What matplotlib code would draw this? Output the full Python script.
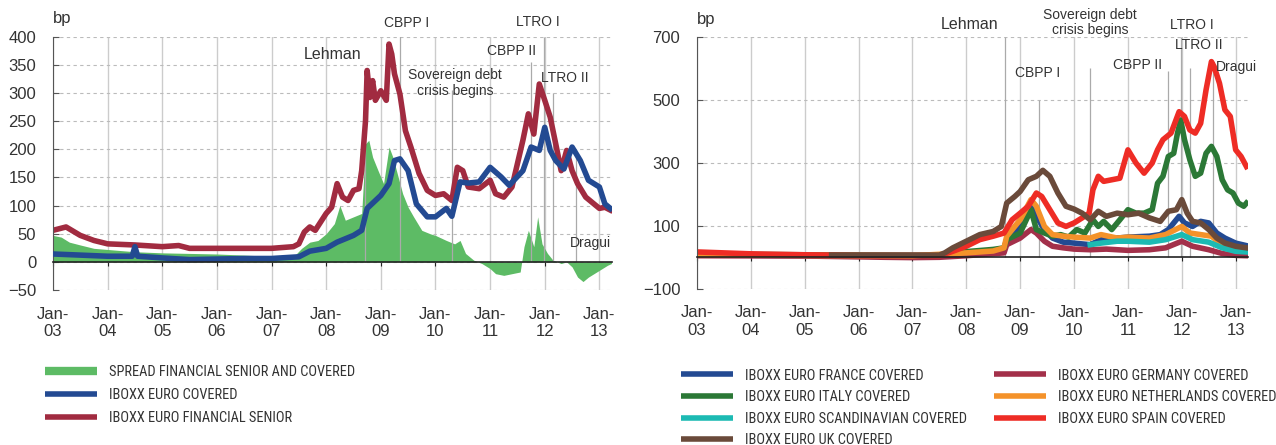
import numpy as np
import matplotlib.pyplot as plt
from matplotlib.lines import Line2D
from matplotlib import font_manager as fm

plt.rcParams['font.family'] = ['Liberation Sans', 'DejaVu Sans']

# legend text in the original is a condensed face: use one if installed
installed = {(f.name, f.stretch) for f in fm.fontManager.ttflist}
narrow = fm.FontProperties(family='Liberation Sans')
for fam, st in [('Liberation Sans Narrow', 'condensed'), ('Liberation Sans Narrow', 'normal'),
                ('Roboto Condensed', 'normal'), ('Roboto Condensed', 'condensed'),
                ('Roboto', 'condensed'), ('Noto Sans', 'condensed'), ('Open Sans', 'condensed'),
                ('DejaVu Sans', 'condensed'), ('DejaVu Sans', 'semi-condensed')]:
    if (fam, st) in installed:
        narrow = fm.FontProperties(family=fam, stretch=st)
        break

#%% x axis (decimal years)
years = list(range(2003, 2014))
year_labels = ['Jan-\n%02d' % (y % 100) for y in years]
x_end = 2013.23

#%% left panel: financial senior vs covered
fin_t = [2003.0, 2003.24, 2003.5, 2003.75, 2004.0, 2004.5, 2005.0, 2005.3, 2005.5, 2006.0,
         2006.5, 2007.0, 2007.4, 2007.5, 2007.6, 2007.7, 2007.8, 2008.0, 2008.1, 2008.2,
         2008.3, 2008.4, 2008.5, 2008.6, 2008.65, 2008.72, 2008.75, 2008.8, 2008.85, 2008.9,
         2009.0, 2009.1, 2009.15, 2009.2, 2009.25, 2009.35, 2009.45, 2009.55, 2009.7, 2009.85,
         2010.0, 2010.15, 2010.3, 2010.4, 2010.5, 2010.6, 2010.8, 2011.0, 2011.1, 2011.25,
         2011.4, 2011.6, 2011.7, 2011.8, 2011.9, 2012.0, 2012.1, 2012.2, 2012.3, 2012.4,
         2012.5, 2012.6, 2012.75, 2012.9, 2013.0, 2013.1, 2013.2]
fin_senior = [56, 62, 47, 38, 32, 30, 27, 29, 24, 24,
              24, 24, 27, 32, 53, 62, 56, 86, 97, 139,
              115, 109, 127, 130, 162, 251, 340, 292, 322, 287,
              304, 287, 387, 369, 334, 298, 233, 204, 157, 127,
              118, 121, 109, 168, 162, 133, 130, 145, 121, 115,
              133, 216, 263, 227, 316, 287, 257, 210, 162, 198,
              162, 139, 115, 103, 95, 97, 92]

cov_t = [2003.0, 2003.5, 2004.0, 2004.45, 2004.5, 2004.55, 2005.0, 2005.5, 2006.0, 2006.5,
         2007.0, 2007.5, 2007.7, 2008.0, 2008.2, 2008.5, 2008.65, 2008.75, 2009.0, 2009.15,
         2009.25, 2009.35, 2009.5, 2009.65, 2009.85, 2010.0, 2010.2, 2010.3, 2010.45, 2010.6,
         2010.8, 2011.0, 2011.2, 2011.35, 2011.6, 2011.75, 2011.9, 2012.0, 2012.1, 2012.2,
         2012.35, 2012.5, 2012.65, 2012.8, 2013.0, 2013.1, 2013.2]
covered = [14, 12, 10, 10, 27, 10, 7, 4, 5, 6,
           6, 9, 19, 24, 35, 47, 56, 95, 118, 139,
           180, 183, 162, 103, 80, 80, 95, 81, 142, 140,
           142, 168, 151, 136, 162, 204, 198, 239, 198, 180,
           165, 204, 180, 145, 133, 103, 95]

spread_t = [2003.0, 2003.15, 2003.3, 2003.5, 2003.75, 2004.0, 2004.5, 2005.0, 2005.5, 2006.0,
            2006.5, 2007.0, 2007.4, 2007.55, 2007.7, 2007.85, 2008.0, 2008.15, 2008.25, 2008.35,
            2008.5, 2008.65, 2008.72, 2008.78, 2008.85, 2008.95, 2009.05, 2009.15, 2009.22, 2009.3,
            2009.4, 2009.5, 2009.6, 2009.75, 2009.9, 2010.0, 2010.2, 2010.35, 2010.45, 2010.55,
            2010.7, 2010.85, 2011.0, 2011.1, 2011.25, 2011.4, 2011.55, 2011.62, 2011.7, 2011.8,
            2011.87, 2011.95, 2012.05, 2012.15, 2012.3, 2012.4, 2012.5, 2012.6, 2012.7, 2012.8,
            2012.9, 2013.0, 2013.15, 2013.22]
spread = [47, 44, 35, 30, 24, 22, 18, 16, 15, 14,
          12, 10, 9, 24, 35, 38, 50, 68, 100, 74,
          80, 86, 210, 216, 186, 162, 139, 204, 186, 157,
          121, 97, 80, 56, 50, 47, 38, 32, 38, 15,
          3, -3, -12, -21, -24, -21, -18, 27, 56, 27,
          80, 32, 15, 3, -3, 0, -9, -27, -35, -27,
          -21, -15, -6, -3]

#%% right panel: covered bond indices by country
fr_t = [2003.0, 2005.0, 2007.0, 2007.5, 2008.0, 2008.5, 2008.7, 2008.75, 2009.0, 2009.2,
        2009.3, 2009.45, 2009.6, 2009.8, 2010.0, 2010.3, 2010.5, 2010.8, 2011.0, 2011.4,
        2011.6, 2011.75, 2011.95, 2012.05, 2012.2, 2012.35, 2012.5, 2012.65, 2012.8, 2013.0,
        2013.2]
france = [8, 5, 4, 3, 14, 19, 24, 56, 98, 162,
          130, 88, 61, 48, 45, 40, 56, 61, 64, 67,
          72, 88, 130, 109, 98, 114, 109, 77, 61, 45,
          37]

de_t = [2003.0, 2005.0, 2006.5, 2007.0, 2007.5, 2008.0, 2008.7, 2008.75, 2009.0, 2009.2,
        2009.3, 2009.45, 2009.6, 2009.8, 2010.0, 2010.3, 2010.6, 2011.0, 2011.4, 2011.7,
        2012.0, 2012.2, 2012.5, 2012.75, 2013.0, 2013.2]
germany = [5, 4, 0, -1, 0, 5, 14, 40, 61, 88,
           77, 51, 35, 30, 26, 24, 26, 22, 24, 30,
           51, 35, 24, 12, 6, 5]

it_t = [2003.0, 2005.0, 2007.0, 2007.5, 2008.0, 2008.5, 2008.7, 2008.75, 2009.0, 2009.2,
        2009.3, 2009.45, 2009.6, 2009.75, 2009.9, 2010.05, 2010.2, 2010.35, 2010.45, 2010.55,
        2010.7, 2010.85, 2011.0, 2011.15, 2011.3, 2011.45, 2011.55, 2011.65, 2011.75, 2011.85,
        2011.92, 2011.98, 2012.05, 2012.15, 2012.25, 2012.35, 2012.45, 2012.55, 2012.65, 2012.75,
        2012.85, 2012.95, 2013.05, 2013.15, 2013.2]
italy = [10, 8, 6, 6, 18, 25, 30, 56, 77, 151,
         88, 77, 67, 72, 64, 88, 77, 119, 98, 114,
         88, 119, 151, 140, 140, 151, 235, 257, 320, 330,
         394, 436, 373, 309, 257, 267, 330, 352, 320, 246,
         214, 204, 172, 162, 172]

nl_t = [2003.0, 2005.0, 2007.0, 2008.0, 2008.5, 2008.7, 2008.75, 2009.0, 2009.2, 2009.3,
        2009.45, 2009.6, 2009.8, 2010.0, 2010.3, 2010.5, 2010.8, 2011.0, 2011.4, 2011.7,
        2012.0, 2012.15, 2012.35, 2012.55, 2012.75, 2013.0, 2013.2]
netherlands = [8, 6, 5, 14, 20, 30, 67, 119, 183, 162,
               98, 72, 67, 64, 61, 72, 61, 64, 61, 72,
               98, 77, 72, 67, 40, 30, 26]

sc_t = [2010.3, 2010.5, 2010.8, 2011.0, 2011.4, 2011.7, 2012.0, 2012.2, 2012.5, 2012.75,
        2013.0, 2013.2]
scandinavian = [40, 45, 51, 51, 48, 56, 72, 56, 48, 30,
                19, 17]

es_t = [2003.0, 2003.5, 2004.0, 2005.0, 2006.0, 2007.0, 2007.5, 2007.75, 2008.0, 2008.25,
        2008.5, 2008.7, 2008.85, 2009.0, 2009.15, 2009.3, 2009.4, 2009.55, 2009.7, 2009.85,
        2010.0, 2010.15, 2010.28, 2010.35, 2010.45, 2010.55, 2010.7, 2010.85, 2011.0, 2011.15,
        2011.3, 2011.45, 2011.55, 2011.65, 2011.8, 2011.95, 2012.05, 2012.15, 2012.25, 2012.35,
        2012.45, 2012.55, 2012.6, 2012.7, 2012.8, 2012.9, 2013.0, 2013.1, 2013.2]
spain = [17, 14, 11, 8, 6, 6, 5, 19, 35, 56,
         67, 77, 119, 140, 162, 204, 193, 151, 109, 98,
         109, 125, 140, 214, 257, 241, 246, 251, 341, 299,
         267, 299, 341, 373, 394, 462, 447, 404, 394, 425,
         531, 621, 605, 552, 468, 447, 341, 320, 288]

uk_t = [2005.5, 2006.0, 2007.0, 2007.5, 2007.6, 2007.75, 2008.0, 2008.25, 2008.5, 2008.65,
        2008.75, 2008.9, 2009.0, 2009.15, 2009.3, 2009.42, 2009.55, 2009.7, 2009.85, 2010.0,
        2010.15, 2010.3, 2010.45, 2010.6, 2010.8, 2011.0, 2011.2, 2011.4, 2011.6, 2011.75,
        2011.9, 2012.0, 2012.1, 2012.2, 2012.35, 2012.5, 2012.65, 2012.8, 2013.0, 2013.2]
uk = [7, 7, 7, 7, 14, 30, 51, 72, 82, 98,
      172, 193, 209, 246, 257, 276, 257, 204, 162, 153,
      140, 119, 146, 130, 140, 135, 140, 125, 114, 146,
      151, 183, 140, 114, 109, 88, 61, 45, 35, 30]

#%% events
event_names = ['Lehman', 'CBPP I', 'Sovereign debt\ncrisis begins', 'CBPP II',
               'LTRO I', 'LTRO II', 'Dragui']
event_dates = [2008.71, 2009.35, 2010.30, 2011.75, 2011.98, 2012.16, 2012.57]
left_event_top = [345, 405, 305, 355, 400, 300, 200]
left_label_x = [2008.12, 2009.47, 2010.36, 2011.39, 2011.88, 2012.37, 2012.83]
left_label_y = [368, 424, 318, 374, 426, 327, 33]
right_event_top = [700, 500, 600, 590, 700, 600, 600]
right_label_x = [2008.06, 2009.32, 2010.30, 2011.18, 2012.18, 2012.31, 2013.02]
right_label_y = [740, 585, 745, 610, 737, 674, 604]
label_size = [11.5, 10, 10, 10, 10, 10, 10]

#%% colours
c_spread = '#5dbb65'
c_cov = '#234a92'
c_fin = '#a12b40'
country_colors = {'FRANCE': '#234a92', 'GERMANY': '#a3304a', 'ITALY': '#2b7836',
                  'NETHERLANDS': '#f4922a', 'SCANDINAVIAN': '#1cbab3',
                  'SPAIN': '#ee2c25', 'UK': '#6a4a3a'}
text_c = '#333333'


def style_axes(ax, yticks, ylim, label_pad):
    ax.set_xlim(2003, x_end)
    ax.set_ylim(*ylim)
    ax.set_yticks(yticks)
    ax.set_xticks(years)
    ax.set_xticklabels(year_labels, linespacing=1.3)
    for s in ['top', 'right']:
        ax.spines[s].set_visible(False)
    ax.spines['bottom'].set_position(('data', 0))
    ax.spines['bottom'].set_color('#222222')
    ax.spines['bottom'].set_linewidth(1.2)
    ax.spines['bottom'].set_zorder(5)
    ax.spines['left'].set_color('#555555')
    ax.grid(axis='y', color='#bbbbbb', linestyle=(0, (3, 3)), linewidth=0.8)
    ax.grid(axis='x', color='#cccccc', linestyle='-', linewidth=1.0)
    ax.set_axisbelow(True)
    ax.tick_params(axis='y', direction='in', length=4, color='#555555',
                   labelsize=12, pad=12, labelcolor=text_c)
    ax.tick_params(axis='x', direction='out', length=3, color='#222222',
                   labelsize=12, pad=label_pad, labelcolor=text_c)
    ax.text(0, 1.07, 'bp', transform=ax.transAxes, ha='left', va='center',
            fontsize=12, color=text_c)


def draw_events(ax, tops, lx, ly):
    for name, d, top, x, y, fs in zip(event_names, event_dates, tops, lx, ly, label_size):
        ax.vlines(d, 0, top, color='#aaaaaa', linewidth=0.9, zorder=1.5)
        ax.text(x, y, name, ha='center', va='center', fontsize=fs, color=text_c,
                linespacing=1.15)


fig = plt.figure(figsize=(12.76, 4.45), dpi=100)
ax1 = fig.add_axes([0.0415, 0.3483, 0.4381, 0.5692])
ax2 = fig.add_axes([0.5462, 0.351, 0.4319, 0.5665])

# left
ax1.fill_between(spread_t, spread, 0, color=c_spread, linewidth=0, zorder=1)
draw_events(ax1, left_event_top, left_label_x, left_label_y)
ax1.plot(fin_t, fin_senior, color=c_fin, linewidth=4, zorder=2)
ax1.plot(cov_t, covered, color=c_cov, linewidth=4, zorder=3)
style_axes(ax1, np.arange(-50, 401, 50), (-50, 400), 29.5)

# right
draw_events(ax2, right_event_top, right_label_x, right_label_y)
ax2.plot(fr_t, france, color=country_colors['FRANCE'], linewidth=4, zorder=2)
ax2.plot(de_t, germany, color=country_colors['GERMANY'], linewidth=4, zorder=2)
ax2.plot(it_t, italy, color=country_colors['ITALY'], linewidth=4, zorder=2)
ax2.plot(nl_t, netherlands, color=country_colors['NETHERLANDS'], linewidth=4, zorder=2)
ax2.plot(sc_t, scandinavian, color=country_colors['SCANDINAVIAN'], linewidth=4, zorder=2)
ax2.plot(es_t, spain, color=country_colors['SPAIN'], linewidth=4, zorder=2)
ax2.plot(uk_t, uk, color=country_colors['UK'], linewidth=4, zorder=2)
style_axes(ax2, [-100, 100, 300, 500, 700], (-100, 700), 31.5)

# legend font size: the longest left entry is about 246 px wide in the original
renderer = fig.canvas.get_renderer()
probe = fig.text(0, 0, 'SPREAD FINANCIAL SENIOR AND COVERED', fontproperties=narrow, fontsize=11)
leg_size = min(11.0, 11.0 * 246.0 / probe.get_window_extent(renderer).width)
probe.remove()
narrow.set_size(leg_size)


def legend_kw(pitch_px, top_y):
    pitch_pt = pitch_px * 0.72
    return dict(loc='upper left', frameon=False, borderpad=0, borderaxespad=0,
                handlelength=52.0 / (leg_size / 0.72), handletextpad=12.0 / (leg_size / 0.72),
                labelspacing=(pitch_pt - 0.93 * leg_size) / leg_size,
                prop=narrow, labelcolor=text_c)


def h(c, lw=4):
    return Line2D([0], [0], color=c, linewidth=lw, solid_capstyle='butt')


fig.legend([h(c_spread, 6), h(c_cov), h(c_fin)],
           ['SPREAD FINANCIAL SENIOR AND COVERED', 'IBOXX EURO COVERED',
            'IBOXX EURO FINANCIAL SENIOR'],
           bbox_to_anchor=(0.0353, 1 - 365.0 / 445), **legend_kw(22.5, 0))

col1 = ['FRANCE', 'ITALY', 'SCANDINAVIAN', 'UK']
col2 = ['GERMANY', 'NETHERLANDS', 'SPAIN']
fig.legend([h(country_colors[k]) for k in col1],
           ['IBOXX EURO %s COVERED' % k for k in col1],
           bbox_to_anchor=(0.5337, 1 - 368.5 / 445), **legend_kw(21, 0))
fig.legend([h(country_colors[k]) for k in col2],
           ['IBOXX EURO %s COVERED' % k for k in col2],
           bbox_to_anchor=(0.779, 1 - 368.5 / 445), **legend_kw(21, 0))

fig.savefig('out.png', dpi=100)
